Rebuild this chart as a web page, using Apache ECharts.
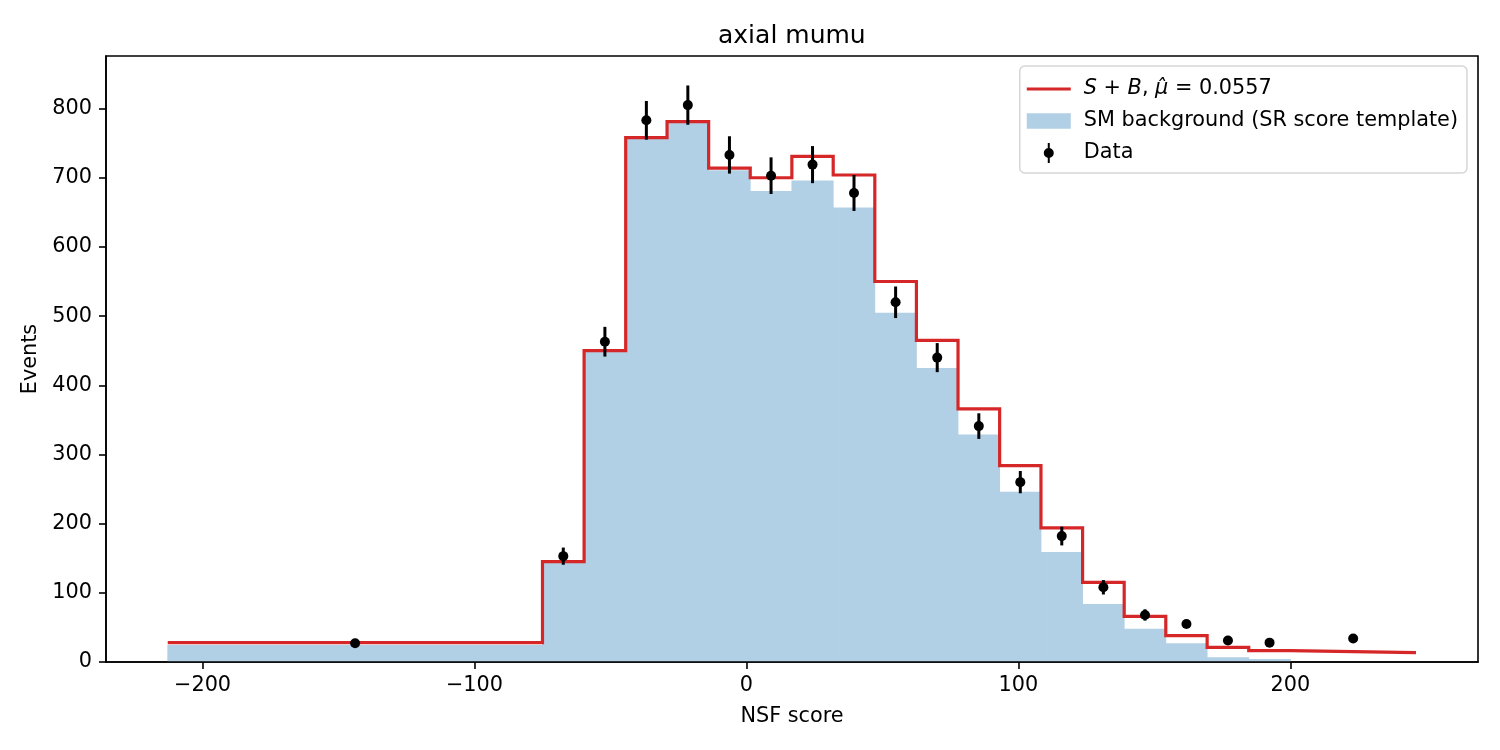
<!DOCTYPE html>
<html lang="en">
<head>
    <meta charset="UTF-8">
    <title>axial mumu</title>
    <script src="https://cdn.jsdelivr.net/npm/echarts@6.0.0/dist/echarts.min.js"></script>
    <style>
        body { margin: 0; background: #fff; }
        #main { width: 1500px; height: 750px; }
    </style>
</head>
<body>
<div id="main"></div>
<script type="text/javascript">
    // bin edges of the NSF score histogram (first and last bins are wide)
    var edges = [-212.8, -75.0, -59.7, -44.4, -29.2, -13.9, 1.4, 16.7, 31.9, 47.2, 62.5,
        77.8, 93.1, 108.3, 123.6, 138.9, 154.2, 169.4, 184.7, 200.0, 246.2];
    // S+B fit, per bin
    var sbTotal = [27.9, 145, 450, 758, 781, 714, 700, 731, 704, 550, 465,
        366, 284, 194, 115, 66, 38, 21, 16.3, 13.5];
    // SM background template, per bin
    var bkg = [24.6, 144, 448, 756, 779, 711, 681, 696, 657, 505, 425,
        329, 246, 159, 84, 48, 27, 7, 4.3, 0];
    // observed data and its error bars
    var dataVals = [27, 153, 463, 783, 805, 733, 703, 719, 678, 520, 440,
        341, 260, 182, 108, 68, 55, 31, 28, 34];
    var dataErr = [5.2, 12.4, 21.5, 28, 28.4, 27, 26.5, 26.8, 26, 22.8, 21,
        18.5, 16.1, 13.5, 10.4, 8.2, 0, 0, 0, 0];
    var xTicks = [-200, -100, 0, 100, 200];
    var yTicks = [0, 100, 200, 300, 400, 500, 600, 700, 800];

    var FONT = 'DejaVu Sans';
    var myChart = echarts.init(document.getElementById('main'));

    var bkgBins = bkg.map(function (v, i) { return [edges[i], edges[i + 1], v]; });
    // step outline: both corners of every bin
    var sbLine = [];
    sbTotal.forEach(function (v, i) {
        sbLine.push([edges[i], v]);
        sbLine.push([edges[i + 1], v]);
    });
    var dataPts = dataVals.map(function (v, i) {
        return [(edges[i] + edges[i + 1]) / 2, v, dataErr[i]];
    });

    function renderBin(params, api) {
        var p0 = api.coord([api.value(0), api.value(2)]);
        var p1 = api.coord([api.value(1), 0]);
        return {
            type: 'rect',
            // a little overlap so no seams show between bins
            shape: {x: p0[0] - 0.4, y: p0[1], width: p1[0] - p0[0] + 0.8, height: p1[1] - p0[1]},
            style: {fill: '#b1cfe5'}
        };
    }

    function renderPoint(params, api) {
        var x = api.value(0), y = api.value(1), e = api.value(2);
        var c = api.coord([x, y]);
        var lo = api.coord([x, y - e]);
        var hi = api.coord([x, y + e]);
        return {
            type: 'group',
            children: [
                {type: 'line', shape: {x1: c[0], y1: lo[1], x2: c[0], y2: hi[1]},
                    style: {stroke: '#000', lineWidth: 3}},
                {type: 'circle', shape: {cx: c[0], cy: c[1], r: 5}, style: {fill: '#000'}}
            ]
        };
    }

    var option = {
        animation: false,
        textStyle: {fontFamily: FONT},
        title: {
            text: 'axial mumu',
            left: 718,
            top: 24,
            padding: 0,
            textStyle: {fontFamily: FONT, fontSize: 25, fontWeight: 'normal', color: '#000'}
        },
        grid: {
            left: 106, right: 22, top: 56, bottom: 88,
            show: true, borderColor: '#000', borderWidth: 1.6, backgroundColor: 'transparent'
        },
        legend: {
            orient: 'vertical',
            right: 33,
            top: 66,
            padding: [11, 9, 8, 7],
            itemGap: 8,
            itemWidth: 44,
            itemHeight: 20,
            selectedMode: false,
            borderColor: '#d6d6d6',
            borderWidth: 1.5,
            borderRadius: 5,
            backgroundColor: '#fff',
            textStyle: {
                fontFamily: FONT, fontSize: 20.8, color: '#000', lineHeight: 24, padding: [0, 0, 0, 8],
                rich: {
                    i: {fontFamily: FONT, fontSize: 20.8, fontStyle: 'italic', color: '#000', lineHeight: 24}
                }
            },
            formatter: function (name) {
                if (name === 'S+B') return '{i|S} + {i|B}, {i|\u03bc\u0302} = 0.0557';
                return name;
            },
            data: [
                {name: 'S+B', icon: 'path://M0,0H44V3H0Z'},
                {name: 'SM background (SR score template)', icon: 'path://M0,0H42V15H0Z'},
                {name: 'Data', icon: 'path://M17,10A5,5 0 1,1 27,10A5,5 0 1,1 17,10Z M21,0H23V20H21Z'}
            ]
        },
        xAxis: {
            type: 'value',
            min: -235.5,
            max: 269,
            z: 10,
            name: 'NSF score',
            nameLocation: 'middle',
            nameGap: 44,
            nameTextStyle: {fontFamily: FONT, fontSize: 20.8, color: '#000'},
            splitLine: {show: false},
            axisLine: {show: true, onZero: false, lineStyle: {color: '#000', width: 1.6}},
            axisTick: {show: true, length: 7, customValues: xTicks, lineStyle: {color: '#000', width: 1.6}},
            axisLabel: {
                customValues: xTicks,
                margin: 13,
                fontFamily: FONT, fontSize: 20.8, color: '#000',
                formatter: function (v) { return v < 0 ? '\u2212' + (-v) : String(v); }
            }
        },
        yAxis: {
            type: 'value',
            min: 0,
            max: 876,
            z: 10,
            name: 'Events',
            nameLocation: 'middle',
            nameRotate: 90,
            nameGap: 59,
            nameTextStyle: {fontFamily: FONT, fontSize: 20.8, color: '#000'},
            splitLine: {show: false},
            axisLine: {show: true, onZero: false, lineStyle: {color: '#000', width: 1.6}},
            axisTick: {show: true, length: 7, customValues: yTicks, lineStyle: {color: '#000', width: 1.6}},
            axisLabel: {
                customValues: yTicks,
                margin: 14,
                fontFamily: FONT, fontSize: 20.8, color: '#000'
            }
        },
        series: [
            {
                name: 'SM background (SR score template)',
                type: 'custom',
                renderItem: renderBin,
                itemStyle: {color: '#b1cfe5'},
                encode: {x: [0, 1], y: 2},
                data: bkgBins,
                z: 1
            },
            {
                name: 'S+B',
                type: 'line',
                symbol: 'none',
                itemStyle: {color: '#d62728'},
                lineStyle: {color: '#d62728', width: 3.2, join: 'miter'},
                data: sbLine,
                z: 3
            },
            {
                name: 'Data',
                type: 'custom',
                renderItem: renderPoint,
                itemStyle: {color: '#000'},
                encode: {x: 0, y: 1},
                data: dataPts,
                z: 5
            }
        ]
    };

    myChart.setOption(option);
</script>
</body>
</html>
